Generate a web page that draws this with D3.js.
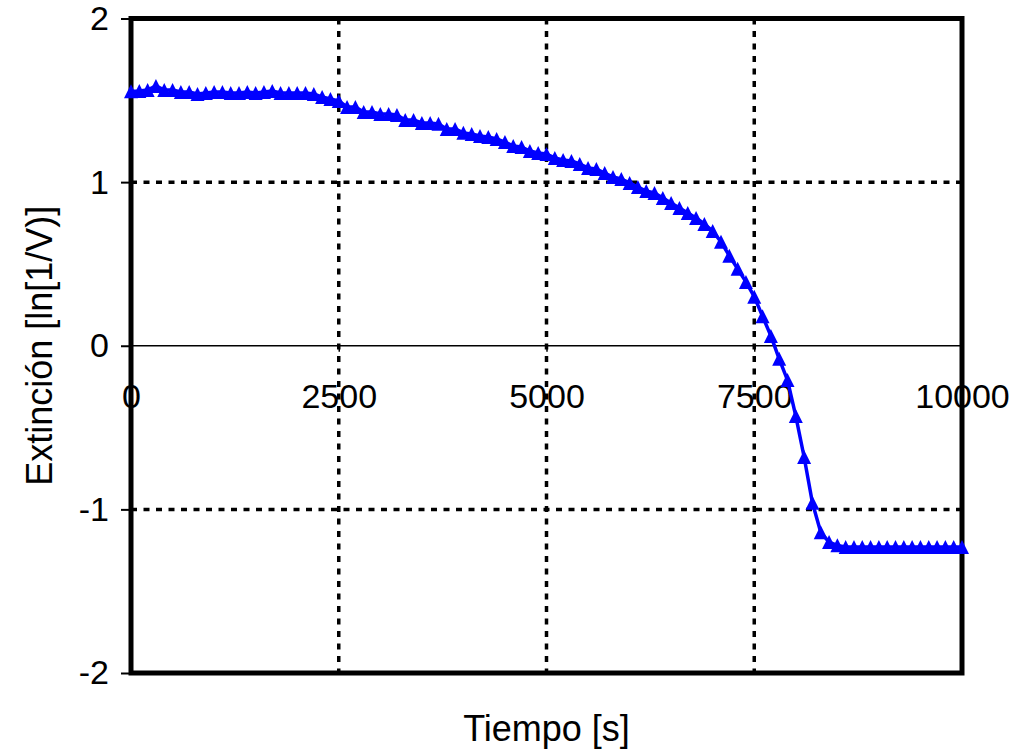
<!DOCTYPE html>
<html>
<head>
<meta charset="utf-8">
<script src="https://cdn.jsdelivr.net/npm/d3@7"></script>
<style>
  body { margin: 0; background: #fff; }
  svg { display: block; font-family: "Liberation Sans", Arial, sans-serif; }
</style>
</head>
<body>
<svg id="chart" width="1018" height="750"></svg>
<script>
const width = 1018;
const height = 750;

// time in seconds
const tiempo = [
  0, 100, 200, 300, 400, 500, 600, 700, 800, 900,
  1000, 1100, 1200, 1300, 1400, 1500, 1600, 1700, 1800, 1900,
  2000, 2100, 2200, 2300, 2400, 2500, 2600, 2700, 2800, 2900,
  3000, 3100, 3200, 3300, 3400, 3500, 3600, 3700, 3800, 3900,
  4000, 4100, 4200, 4300, 4400, 4500, 4600, 4700, 4800, 4900,
  5000, 5100, 5200, 5300, 5400, 5500, 5600, 5700, 5800, 5900,
  6000, 6100, 6200, 6300, 6400, 6500, 6600, 6700, 6800, 6900,
  7000, 7100, 7200, 7300, 7400, 7500, 7600, 7700, 7800, 7900,
  8000, 8100, 8200, 8300, 8400, 8500, 8600, 8700, 8800, 8900,
  9000, 9100, 9200, 9300, 9400, 9500, 9600, 9700, 9800, 9900,
  10000
];

// extinction ln(1/V)
const extincion = [
  1.555, 1.557, 1.563, 1.588, 1.563, 1.563, 1.551, 1.551, 1.539, 1.545,
  1.551, 1.551, 1.545, 1.545, 1.551, 1.545, 1.551, 1.557, 1.545, 1.545,
  1.545, 1.545, 1.539, 1.520, 1.508, 1.496, 1.459, 1.459, 1.429, 1.429,
  1.417, 1.417, 1.411, 1.380, 1.380, 1.362, 1.362, 1.356, 1.325, 1.325,
  1.301, 1.294, 1.282, 1.276, 1.264, 1.245, 1.221, 1.215, 1.190, 1.178,
  1.172, 1.148, 1.135, 1.129, 1.111, 1.087, 1.080, 1.056, 1.031, 1.019,
  0.995, 0.970, 0.946, 0.934, 0.903, 0.873, 0.842, 0.811, 0.781, 0.744,
  0.701, 0.635, 0.550, 0.470, 0.390, 0.300, 0.180, 0.060, -0.080, -0.210,
  -0.430, -0.680, -0.960, -1.140, -1.200, -1.220, -1.230, -1.230, -1.230, -1.230,
  -1.230, -1.230, -1.230, -1.230, -1.230, -1.230, -1.230, -1.230, -1.230, -1.230,
  -1.230
];

const xTicks = [0, 2500, 5000, 7500, 10000];
const yTicks = [-2, -1, 0, 1, 2];

const plot = { left: 131, right: 962, top: 18.5, bottom: 673 };
const fontFamily = "Liberation Sans, Arial, sans-serif";

const x = d3.scaleLinear().domain([0, 10000]).range([plot.left, plot.right]);
const y = d3.scaleLinear().domain([-2, 2]).range([plot.bottom, plot.top]);

const svg = d3.select("#chart");

// dotted grid
const grid = svg.append("g")
    .attr("stroke", "#000")
    .attr("stroke-width", 3.5)
    .attr("stroke-dasharray", "6,6.5");

grid.selectAll("line.h")
    .data(yTicks.filter(d => d !== 0))
    .enter().append("line")
    .attr("x1", plot.left).attr("x2", plot.right)
    .attr("y1", d => y(d)).attr("y2", d => y(d));

grid.selectAll("line.v")
    .data(xTicks.filter(d => d !== 0))
    .enter().append("line")
    .attr("x1", d => x(d)).attr("x2", d => x(d))
    .attr("y1", plot.top).attr("y2", plot.bottom);

// plot frame
svg.append("rect")
    .attr("x", plot.left).attr("y", plot.top)
    .attr("width", plot.right - plot.left)
    .attr("height", plot.bottom - plot.top)
    .attr("fill", "none")
    .attr("stroke", "#000")
    .attr("stroke-width", 5);

// y axis with outside ticks
const yAxis = svg.append("g")
    .attr("transform", `translate(${plot.left},0)`)
    .call(d3.axisLeft(y).tickValues(yTicks).tickSize(10).tickPadding(12).tickFormat(d => String(d)));
yAxis.select(".domain").remove();
yAxis.selectAll(".tick line").attr("stroke-width", 2);
yAxis.selectAll("text").attr("font-size", 34).attr("fill", "#000")
    .attr("font-family", fontFamily);

// x axis crossing at y = 0
const xAxis = svg.append("g")
    .attr("transform", `translate(0,${y(0)})`)
    .call(d3.axisBottom(x).tickValues(xTicks).tickSize(6).tickPadding(32).tickFormat(d => String(d)));
xAxis.select(".domain").attr("stroke-width", 1.5).attr("d", `M${plot.left},0H${plot.right}`);
xAxis.selectAll(".tick line").attr("stroke-width", 1.5);
xAxis.selectAll("text").attr("font-size", 34).attr("fill", "#000")
    .attr("font-family", fontFamily);

// series
const pts = tiempo.map((t, i) => [t, extincion[i]]);

svg.append("path")
    .datum(pts)
    .attr("fill", "none")
    .attr("stroke", "#0000ff")
    .attr("stroke-width", 3.5)
    .attr("stroke-linejoin", "round")
    .attr("d", d3.line().x(d => x(d[0])).y(d => y(d[1])));

// Excel style triangle marker, centred on its bounding box
const excelTriangle = {
    draw(ctx, size) {
        const h = Math.sqrt(size) / 2;
        ctx.moveTo(0, -h);
        ctx.lineTo(h, h);
        ctx.lineTo(-h, h);
        ctx.closePath();
    }
};
const tri = d3.symbol().type(excelTriangle).size(196);

svg.append("g")
    .selectAll("path")
    .data(pts)
    .enter().append("path")
    .attr("transform", d => `translate(${x(d[0])},${y(d[1])})`)
    .attr("d", tri)
    .attr("fill", "#0000ff");

// titles
svg.append("text")
    .attr("x", (plot.left + plot.right) / 2)
    .attr("y", 741)
    .attr("text-anchor", "middle")
    .attr("font-size", 36)
    .text("Tiempo [s]");

svg.append("text")
    .attr("transform", `translate(52,${y(0)}) rotate(-90)`)
    .attr("text-anchor", "middle")
    .attr("font-size", 36)
    .text("Extinción [ln[1/V)]");
</script>
</body>
</html>
